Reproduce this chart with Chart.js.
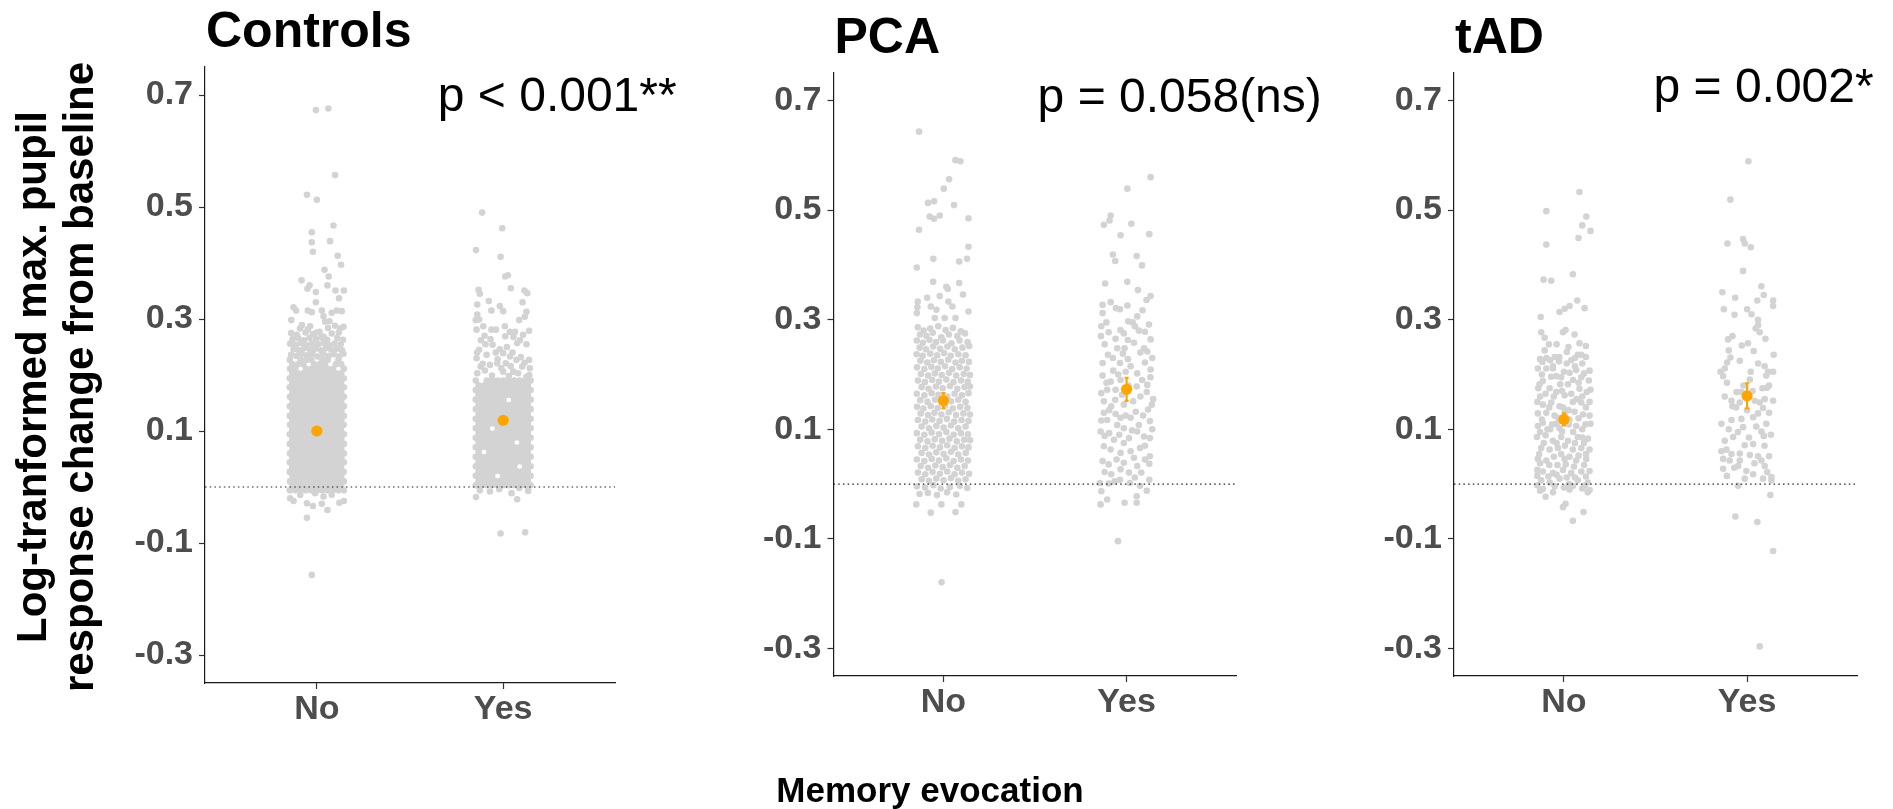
<!DOCTYPE html>
<html><head><meta charset="utf-8">
<script src="https://cdn.jsdelivr.net/npm/chart.js@4.4.1/dist/chart.umd.min.js"></script>
<style>
html,body{margin:0;padding:0;background:#fff;}
#wrap{position:relative;width:1893px;height:809px;overflow:hidden;background:#fff;}
canvas{position:absolute;top:0;}
</style>
</head><body>
<div id="wrap">
<canvas id="c1" width="700" height="809" style="left:0px"></canvas>
<canvas id="c2" width="700" height="809" style="left:700px"></canvas>
<canvas id="c3" width="593" height="809" style="left:1300px"></canvas>
</div>
<script>
// ---------------- DATA ----------------
const categories = ['No', 'Yes'];
const groups = ['Controls', 'PCA', 'tAD'];
const pLabels = ['p < 0.001**', 'p = 0.058(ns)', 'p = 0.002*'];
const yTickValues = [0.7, 0.5, 0.3, 0.1, -0.1, -0.3];
const meanNo = [0.100, 0.152, 0.118];
const meanYes = [0.119, 0.173, 0.161];
const seNo = [0.004, 0.014, 0.011];
const seYes = [0.006, 0.021, 0.023];
// annotation anchor (x in category units, y in data units)
const pAnnotX = [2.29, 2.29, 2.09];
const pAnnotY = [0.672, 0.679, 0.697];

// individual trials: [jitter (thousandths of a category), value (thousandths)]
// dense blocks as rows: [value, jitter, jitter, ...]
const ctrlNoRows = [
[-6,-145,-116,-87,-58,-29,0,29,58,87,116,145],
[2,-131,-102,-73,-44,-15,15,44,73,102,131],
[10,-144,-115,-86,-58,-29,1,30,58,87,116,145],
[18,-130,-101,-72,-43,-14,16,45,73,102,131],
[27,-145,-117,-88,-59,-30,-1,28,57,86,115,144],
[35,-132,-103,-74,-44,-15,14,43,72,101,130],
[44,-145,-116,-87,-58,-28,1,30,59,88,117,145],
[52,-131,-102,-73,-44,-15,15,44,73,102,132],
[60,-144,-116,-87,-57,-29,0,29,58,87,116,145],
[69,-130,-101,-72,-43,-14,15,44,74,103,131],
[77,-145,-116,-87,-58,-29,0,29,58,87,116,145],
[85,-131,-102,-73,-44,-15,15,44,73,102,131],
[94,-145,-115,-86,-57,-28,1,30,59,88,117,145],
[102,-132,-103,-74,-45,-16,14,43,72,101,130],
[111,-144,-116,-87,-58,-29,0,29,58,87,116,144],
[119,-131,-102,-73,-44,-15,15,44,73,102,131],
[127,-145,-117,-88,-59,-30,-1,28,57,86,115,145],
[136,-130,-101,-72,-43,-14,16,45,74,103,132],
[144,-145,-116,-87,-58,-29,0,29,58,87,116,145],
[152,-131,-102,-73,-44,-15,15,44,73,102,131],
[161,-144,-115,-86,-57,-28,1,30,59,88,117,145],
[169,-131,-102,-73,-44,-15,15,44,73,102,131],
[178,-145,-116,-87,-58,-29,0,29,58,87,116,145],
[186,-132,-103,-74,-44,-15,14,43,72,101,130],
[194,-145,-116,-87,-58,-29,0,29,58,87,116,145],
[203,-131,-102,-73,-44,-15,15,44,73,102,131],
[211,-144,-116,-58,-29,0,29,58,87,145],
[219,-131,-102,-73,-15,15,44,102,131],
[227,-145,-87,-58,-29,29,58,116]
];
const ctrlNoPts = [
[-138,236],[-110,234],[-80,238],[-52,235],[-22,237],[5,233],[35,238],[63,234],[92,237],[120,233],[143,238],
[-125,246],[-96,244],[-66,248],[-36,245],[-8,247],[22,244],[50,248],[78,245],[107,247],[135,244],
[-143,256],[-112,254],[-84,257],[-55,253],[-26,256],[8,255],[38,257],[66,253],[95,256],[128,255],
[-130,264],[-100,266],[-70,262],[-40,266],[-5,264],[25,267],[55,263],[110,266],[140,263],
[-138,275],[-108,272],[-60,276],[-20,273],[15,277],[80,274],[118,276],
[-90,283],[-48,281],[60,284],[125,283],
[-5,673],[62,676],[98,557],[-53,522],[0,513],[89,467],[-27,455],[-27,437],[71,439],[-21,420],[112,413],[130,397],
[41,388],[64,376],[-82,369],[-39,360],[-50,354],[-5,348],[57,360],[100,351],[145,351],[119,337],[-5,330],
[-125,321],[-111,315],[-48,315],[-27,312],[27,315],[36,305],[80,311],[107,315],[134,314],[-137,298],[-80,289],
[-36,287],[45,295],[68,296],[98,288],[143,286],[36,268],[0,276],
[-125,-25],[-53,-29],[-21,-34],[27,-30],[57,-41],[121,-28],[145,-25],[-53,-55],[-143,-20],[-89,-14],[36,-17],
[80,-14],[-9,-11],[-27,-157]
];
const ctrlYesRows = [
[3,-147,-118,-88,-59,-29,0,29,59,88,118,147],
[11,-132,-103,-74,-44,-15,15,44,74,103,132],
[20,-147,-118,-88,-59,0,29,59,88,118,147],
[28,-132,-103,-74,-44,-15,15,44,74,103,132],
[37,-147,-118,-88,-59,-29,0,29,59,118,147],
[45,-132,-103,-74,-44,-15,15,44,74,103,132],
[54,-147,-118,-88,-59,-29,0,29,59,88,118,147],
[62,-132,-74,-44,-15,15,44,74,103,132],
[71,-147,-118,-88,-59,-29,0,29,59,88,118,147],
[79,-132,-103,-74,-44,-15,15,44,103,132],
[88,-147,-118,-88,-59,-29,0,29,59,88,118,147],
[96,-132,-103,-74,-44,-15,15,44,74,103,132],
[105,-147,-118,-88,-29,0,29,59,88,118,147],
[113,-132,-103,-74,-44,-15,15,44,74,103,132],
[122,-147,-118,-88,-59,-29,0,29,59,88,118,147],
[130,-132,-103,-74,-44,-15,15,44,74,103,132],
[139,-147,-118,-88,-59,-29,0,29,59,88,118,147],
[147,-132,-103,-74,-44,-15,15,44,74,103,132],
[156,-147,-118,-88,-59,-29,0,59,88,118,147],
[164,-132,-103,-74,-44,-15,15,44,74,103,132],
[173,-147,-118,-88,-59,-29,0,29,59,88,118,147],
[181,-132,-103,-74,-44,-15,15,44,74,103,132],
[190,-147,-88,-59,-29,0,29,59,88,118,147]
];
const ctrlYesPts = [
[-113,490],[-5,462],[-146,423],[-14,411],[11,376],[25,378],[41,355],[-132,352],[-125,345],[114,351],[129,346],
[-77,332],[-139,326],[-18,323],[0,314],[-63,315],[104,330],[125,313],[-139,308],[-147,298],[-129,299],[86,298],
[116,304],[-107,287],[-63,281],[-39,281],[-143,281],[9,287],[36,277],[63,277],[107,272],[139,279],[-68,264],
[11,269],[-57,254],[75,257],[-129,245],[-89,236],[-18,246],[0,239],[36,233],[71,227],[139,227],[-143,230],
[-121,215],[-71,218],[-32,221],[14,221],[102,215],[143,212],[-139,203],[-98,208],[0,206],[54,206],[125,197],
[-120,262],[-95,255],[20,250],[55,268],[90,262],[125,255],[-140,240],[-30,228],[95,232],[-110,220],[-10,212],
[40,216],[115,222],[-60,199],[30,198],[80,203],[140,200],[-40,240],[-100,270],[50,240],
[-146,-18],[-71,-8],[-21,-4],[45,-11],[75,-22],[134,-7],[-14,-83],[118,-81],[-125,-6],[86,-2]
];
const pcaNoPts = [
[-133,643],[66,591],[93,589],[31,556],[2,539],[-84,513],[-51,516],[58,509],[-75,488],[-51,484],[-20,490],
[137,485],[-133,464],[137,433],[-55,411],[86,406],[129,411],[-145,395],[-56,369],[16,360],[86,367],[24,356],
[-20,343],[107,346],[-89,340],[-140,333],[-145,312],[-142,323],[-69,324],[27,333],[49,324],[137,315],[-38,318],
[-47,303],[7,303],[66,303],
[-140,286],[-108,280],[-72,284],[-28,288],[12,281],[52,285],[95,279],
[-128,273],[-92,270],[-58,276],[-12,268],[30,273],[76,270],[118,275],
[-145,262],[-112,258],[-76,263],[-40,259],[-2,262],[44,257],[88,262],[132,259],
[-130,249],[-95,246],[-56,251],[-18,247],[22,251],[62,246],[104,249],[141,252],
[-146,237],[-113,234],[-72,238],[-34,235],[4,239],[40,234],[82,237],[121,235],
[-126,225],[-88,222],[-52,226],[-14,223],[26,227],[66,222],[101,225],[139,223],
[-144,213],[-104,210],[-66,214],[-31,211],[9,215],[48,210],[89,213],[127,211],
[-123,201],[-84,198],[-47,202],[-9,199],[31,203],[70,198],[111,201],[145,199],
[-139,189],[-101,186],[-61,190],[-24,187],[16,191],[55,186],[96,189],[133,187],
[-119,177],[-81,174],[-41,178],[-4,175],[36,179],[76,174],[115,177],[145,178],
[-145,165],[-104,162],[-64,166],[-27,163],[21,160],[61,165],[101,162],[137,166],
[-127,153],[-87,150],[-46,154],[42,151],[81,154],[121,150],
[-144,141],[-109,138],[-69,142],[-31,139],[9,143],[51,138],[91,141],[131,139],
[-124,129],[-84,126],[-49,130],[-11,127],[29,131],[69,126],[109,129],[145,127],
[-139,117],[-99,114],[-61,118],[-21,115],[19,119],[59,114],[99,117],[137,115],
[-119,105],[-79,102],[-39,106],[1,103],[41,107],[81,102],[121,105],
[-145,93],[-104,90],[-64,94],[-24,91],[16,95],[56,90],[96,93],[134,91],
[-127,81],[-87,78],[-47,82],[-7,79],[33,83],[73,78],[113,81],[145,80],
[-139,69],[-99,66],[-59,70],[-19,67],[21,71],[61,66],[101,69],[137,67],
[-119,57],[-79,54],[-39,58],[1,55],[41,59],[81,54],[122,57],
[-145,45],[-104,42],[-64,46],[-24,43],[16,47],[56,42],[96,45],[134,43],
[-124,33],[-84,30],[-44,34],[-4,31],[36,35],[76,30],[116,33],
[-139,21],[-99,18],[-59,22],[-19,19],[21,23],[61,18],[101,21],[140,19],
[-119,9],[-79,6],[-39,10],[1,7],[41,11],[81,6],[121,9],
[-145,-4],[-100,-6],[-55,-2],[-15,-8],[35,-5],[90,-3],[130,-7],[-130,-18],[-85,-16],[-35,-20],[20,-15],[70,-19],
[-148,-37],[-69,-52],[-11,-37],[66,-51],[98,-37],[-10,-179]
];
const pcaYesPts = [
[131,560],[4,539],[-87,490],[-124,473],[-93,481],[26,475],[-33,454],[124,456],[-75,419],[-62,407],[55,416],
[84,399],[-117,366],[4,369],[62,354],[131,343],[109,336],[-87,332],[-131,327],[4,326],[-58,321],[-36,319],
[87,317],[-131,312],[58,306],[9,297],[33,295],[122,291],[-138,288],[-98,277],[-33,281],[-15,275],[67,280],
[-140,270],[7,263],[131,264],[-51,248],[-11,248],[95,248],[113,242],[-102,236],[140,230],[7,228],[131,209],
[-131,221],[-36,221],[22,215],[58,202],[-73,207],[-131,198],[-87,187],[-33,190],[113,181],[55,178],[145,155],
[-138,166],[-106,172],[-62,154],[-124,151],[-84,142],[-15,145],[36,151],[138,145],[117,136],[-124,130],
[-106,117],[-138,116],[-33,121],[22,121],[127,115],[67,108],[-15,102],[-51,108],[-142,96],[-95,93],[58,96],
[95,87],[-69,81],[-15,75],[13,84],[127,84],[-124,69],[-87,63],[-33,57],[73,66],[22,60],[127,51],[-131,42],
[-98,36],[-15,39],[58,33],[124,37],[-33,27],[13,21],[-84,18],[80,21],[124,8],[-146,2],[-98,1],[-36,8],[18,2],
[73,-3],[-138,-13],[-106,-28],[-142,-37],[-11,-34],[55,-22],[55,-34],[-47,-104],
[-110,295],[45,288],[100,278],[-60,265],[-120,255],[40,258],[75,240],[-20,238],[-75,230],[100,222],[-5,205],
[130,195],[-45,200],[85,190],[-110,185],[10,180],[-60,172],[110,168],[-25,163],[75,160],[-95,135],[50,132],
[-5,125],[90,125],[-60,128],[140,100],[-120,88],[30,98],[-40,90],[100,70],[-55,45],[40,48],[-120,22],[100,45],
[-65,5],[45,12],[110,-12]
];
const tadNoPts = [
[85,533],[-96,498],[122,488],[100,472],[145,462],[80,449],[-96,437],[49,383],[-111,373],[-69,371],[73,335],
[31,325],[4,320],[-24,314],[113,321],[-127,305],[-124,277],[-105,267],[-82,255],[-5,277],[9,281],[58,273],
[85,257],[-105,244],[16,241],[76,236],[95,236],[-118,223],[-75,226],[-27,224],[40,226],[100,220],[140,207],
[-142,211],[-96,211],[-60,211],[-42,197],[-15,195],[31,203],[67,208],[95,195],[136,189],[-133,182],[-78,175],
[-115,188],[22,182],[85,174],[125,168],[4,162],[-42,168],[-145,150],[-115,145],[-69,149],[-24,142],[49,150],
[95,149],[140,150],[-142,129],[-96,130],[-51,125],[58,132],[104,127],[140,125],[-142,106],[-115,112],[-64,109],
[-24,102],[27,109],[67,106],[118,109],[-147,86],[-100,89],[-60,79],[-15,86],[22,79],[76,86],[131,83],[-124,66],
[-78,63],[-33,66],[49,63],[95,66],[140,63],[-142,46],[-96,43],[4,46],[67,43],[122,46],[-145,26],[-115,23],
[-60,20],[-5,26],[40,20],[95,23],[140,24],[-124,7],[-78,3],[-24,10],[27,0],[76,7],[131,3],[-115,-9],[-60,-15],
[-100,-23],[31,-10],[140,-11],[113,-3],[-5,-42],[9,-36],[107,-51],[49,-67],
[-130,228],[-50,232],[60,230],[120,232],[-120,200],[-70,196],[0,205],[50,190],[110,202],[-100,165],[-55,160],
[40,165],[100,160],[145,172],[-130,160],[70,155],[-5,140],[25,135],[120,140],[-80,140],[-30,120],[5,130],
[80,120],[-120,118],[30,118],[-75,100],[-40,110],[100,100],[145,110],[-130,95],[-90,100],[50,95],[-10,96],
[100,85],[-40,75],[5,70],[60,75],[110,75],[-110,75],[-135,55],[-55,50],[-15,55],[30,50],[80,52],[120,55],
[-80,35],[-35,35],[10,36],[55,32],[110,35],[-130,38],[-145,15],[-85,14],[-40,17],[15,12],[60,12],[120,14],
[-145,-2],[-50,-4],[0,-6],[50,-3],[100,-8],[-130,-12],[130,-15],[-20,182],[60,215],[-95,230],[25,250],
[-40,255],[120,252],[-140,175],[-10,170],[80,185],[-60,215],[15,220],[-25,232]
];
const tadYesPts = [
[7,589],[-91,519],[-107,439],[-22,447],[-13,439],[20,432],[-22,389],[-135,350],[-65,340],[78,361],[91,345],
[56,335],[142,335],[142,325],[-127,319],[-69,309],[0,319],[24,310],[60,300],[60,290],[69,277],[47,284],
[-104,264],[-29,253],[5,257],[145,236],[-100,244],[36,243],[-91,231],[-109,222],[-122,211],[-145,205],
[-131,197],[60,220],[96,215],[115,205],[142,205],[105,198],[15,191],[84,175],[109,176],[-58,168],[-31,168],
[-122,160],[-85,152],[-80,142],[-40,149],[42,152],[69,149],[96,155],[142,152],[87,139],[60,129],[-85,117],
[-31,119],[33,122],[105,110],[-140,110],[-22,104],[78,96],[91,88],[-76,86],[-122,79],[-13,71],[33,73],
[-113,63],[-85,55],[-40,56],[15,53],[60,51],[120,51],[-131,46],[-95,43],[-40,43],[78,43],[-131,28],[-49,33],
[-4,24],[33,18],[96,33],[-13,10],[87,10],[133,13],[133,7],[-49,-3],[127,-20],[-64,-59],[56,-69],[142,-122],
[69,-296],
[-110,185],[30,170],[-60,140],[120,130],[0,135],[-100,100],[50,105],[130,90],[-50,95],[10,85],[-140,60],
[95,70],[-70,30],[40,38],[110,22],[-110,15],[-20,180],[120,180],[-80,270],[100,265],[-40,225],[20,205]
];

// ---------------- HELPERS ----------------
function expandRows(rows, cat) {
  const out = [];
  rows.forEach(r => { for (let i = 1; i < r.length; i++) out.push({x: cat + r[i] / 1000, y: r[0] / 1000}); });
  return out;
}
function expandPairs(pairs, cat) { return pairs.map(p => ({x: cat + p[0] / 1000, y: p[1] / 1000})); }

const FONT = '"Liberation Sans", Arial, Helvetica, sans-serif';

const panelText = {
  id: 'panelText',
  afterDraw(chart, args, o) {
    const {ctx, chartArea, scales} = chart;
    ctx.save();
    ctx.fillStyle = '#000';
    ctx.textBaseline = 'alphabetic';
    ctx.font = 'bold 50px ' + FONT;
    ctx.textAlign = 'left';
    ctx.fillText(o.title, chartArea.left + 1, chartArea.top - 20);
    ctx.font = '48px ' + FONT;
    ctx.textAlign = 'center';
    ctx.fillText(o.p, scales.x.getPixelForValue(o.px), scales.y.getPixelForValue(o.py));
    if (o.yTitle) {
      ctx.font = 'bold 42px ' + FONT;
      ctx.translate(46, 377);
      ctx.rotate(-Math.PI / 2);
      ctx.textAlign = 'center';
      ctx.fillText(o.yTitle[0], 0, 0);
      ctx.fillText(o.yTitle[1], 0, 47);
      ctx.setTransform(1, 0, 0, 1, 0, 0);
    }
    if (o.xTitle) {
      ctx.font = 'bold 35px ' + FONT;
      ctx.textAlign = 'center';
      ctx.fillText(o.xTitle, o.xTitleX, 802);
    }
    ctx.restore();
  }
};

const errBars = {
  id: 'errBars',
  afterDatasetsDraw(chart, args, o) {
    const {ctx, scales} = chart;
    ctx.save();
    ctx.strokeStyle = '#FFA500';
    ctx.lineWidth = 2.2;
    o.means.forEach((m, i) => {
      const x = scales.x.getPixelForValue(i + 1);
      const y1 = scales.y.getPixelForValue(m - o.se[i]);
      const y2 = scales.y.getPixelForValue(m + o.se[i]);
      ctx.beginPath();
      ctx.moveTo(x, y1); ctx.lineTo(x, y2);
      ctx.moveTo(x - 2, y1); ctx.lineTo(x + 2, y1);
      ctx.moveTo(x - 2, y2); ctx.lineTo(x + 2, y2);
      ctx.stroke();
    });
    ctx.restore();
  }
};

function makePanel(id, gi, noPts, yesPts, pad, extra) {
  const gray = noPts.concat(yesPts);
  new Chart(document.getElementById(id), {
    type: 'scatter',
    data: {
      datasets: [
        {data: [{x: 0.4, y: 0}, {x: 2.6, y: 0}], showLine: true, borderColor: '#222', borderWidth: 1.2,
         borderDash: [1.5, 3.2], pointRadius: 0, order: 0},
        {data: [{x: 1, y: meanNo[gi]}, {x: 2, y: meanYes[gi]}], pointRadius: 5.6, backgroundColor: '#FFA500',
         borderWidth: 0, order: 1},
        {data: gray, pointRadius: 3.3, backgroundColor: '#D3D3D3', borderWidth: 0, order: 2}
      ]
    },
    options: {
      responsive: false, animation: false, devicePixelRatio: 1,
      layout: {padding: pad},
      events: [],
      plugins: {
        legend: {display: false}, tooltip: {enabled: false},
        panelText: Object.assign({title: groups[gi], p: pLabels[gi], px: pAnnotX[gi], py: pAnnotY[gi]}, extra),
        errBars: {means: [meanNo[gi], meanYes[gi]], se: [seNo[gi], seYes[gi]]}
      },
      scales: {
        x: {
          type: 'linear', min: 0.4, max: 2.6,
          afterBuildTicks: a => { a.ticks = [{value: 1}, {value: 2}]; },
          afterFit: a => { a.height = 50; },
          ticks: {callback: v => categories[Math.round(v) - 1], color: '#4D4D4D', padding: 0,
                  font: {family: FONT, size: 34, weight: 'bold'}, maxRotation: 0, autoSkip: false},
          grid: {display: true, drawOnChartArea: false, drawTicks: true, tickLength: 6, tickColor: '#333', tickWidth: 1.2},
          border: {display: true, color: '#1a1a1a', width: 1.2}
        },
        y: {
          type: 'linear', min: -0.35, max: 0.75,
          afterBuildTicks: a => { a.ticks = yTickValues.map(v => ({value: v})); },
          afterFit: a => { a.width = 70; },
          ticks: {callback: v => v.toFixed(1), color: '#4D4D4D', padding: 6,
                  font: {family: FONT, size: 34, weight: 'bold'}, autoSkip: false},
          grid: {display: true, drawOnChartArea: false, drawTicks: true, tickLength: 6, tickColor: '#333', tickWidth: 1.2},
          border: {display: true, color: '#1a1a1a', width: 1.2}
        }
      }
    },
    plugins: [panelText, errBars]
  });
}

makePanel('c1', 0,
  expandRows(ctrlNoRows, 1).concat(expandPairs(ctrlNoPts, 1)),
  expandRows(ctrlYesRows, 2).concat(expandPairs(ctrlYesPts, 2)),
  {left: 135, right: 85, top: 67, bottom: 76},
  {yTitle: ['Log-tranformed max. pupil', 'response change from baseline']});
makePanel('c2', 1, expandPairs(pcaNoPts, 1), expandPairs(pcaYesPts, 2),
  {left: 63.5, right: 163.5, top: 73, bottom: 83},
  {xTitle: 'Memory evocation', xTitleX: 230});
makePanel('c3', 2, expandPairs(tadNoPts, 1), expandPairs(tadYesPts, 2),
  {left: 84, right: 36, top: 73, bottom: 83}, {});
</script>
</body></html>
